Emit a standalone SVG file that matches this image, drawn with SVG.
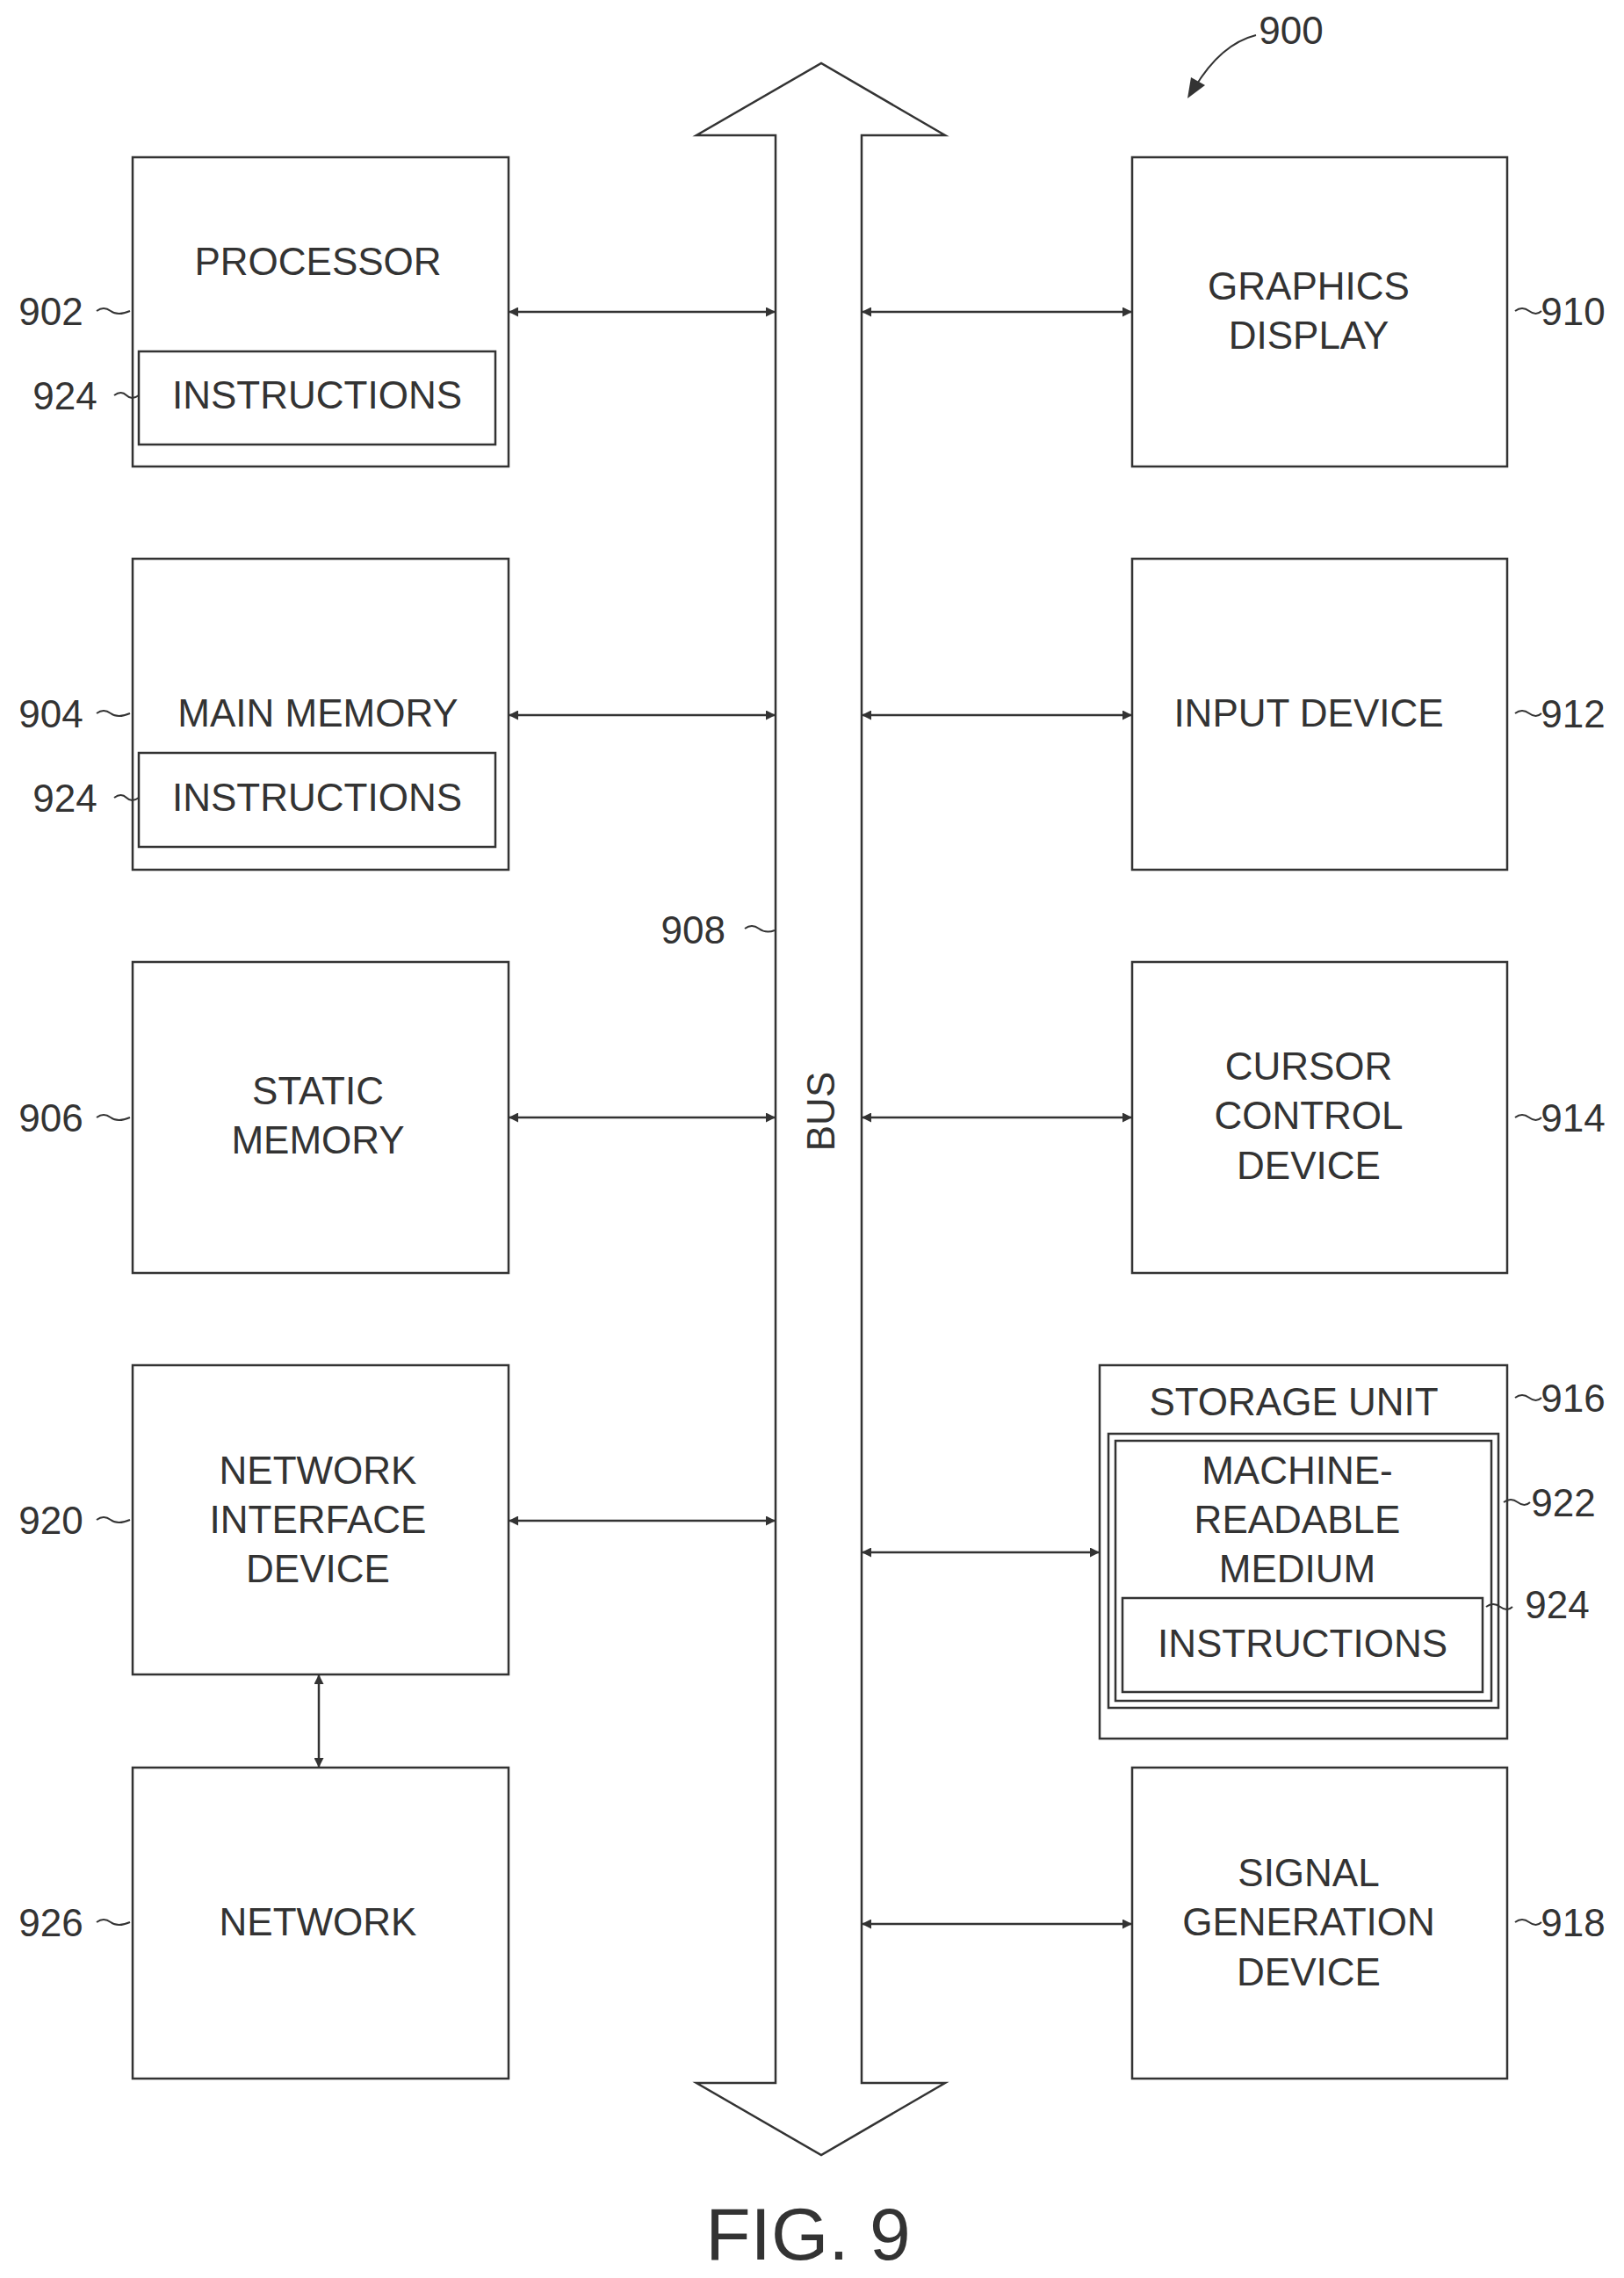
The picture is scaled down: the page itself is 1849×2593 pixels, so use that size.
<svg xmlns="http://www.w3.org/2000/svg" width="1849" height="2593" viewBox="0 0 1849 2593">
<style>
.b{fill:none;stroke:#333;stroke-width:2.5}
.c{fill:none;stroke:#333;stroke-width:2.5;marker-start:url(#a);marker-end:url(#a)}
.l{fill:none;stroke:#333;stroke-width:2}
text{font-family:"Liberation Sans",Arial,sans-serif;font-size:44px;fill:#333;text-anchor:middle}
.n{text-anchor:start}
.r{text-anchor:end}
</style>
<defs>
<marker id="a" viewBox="0 0 10 10" refX="10" refY="5" markerWidth="11" markerHeight="11" markerUnits="userSpaceOnUse" orient="auto-start-reverse"><path d="M0,0 L10,5 L0,10 z" fill="#333"/></marker>
</defs>
<rect width="1849" height="2593" fill="#fff"/>
<g id="bus">
<path class="b" d="M883,2371 L883,154 L793,154 L935,72 L1076,154 L981,154 L981,2371 L1076,2371 L935,2453 L793,2371 Z"/>
<text transform="translate(935,1265) rotate(-90)" y="15">BUS</text>
<text x="786" y="1074" class="r" dx="40">908</text>
<path class="l" d="M848,1057 q8,-6 16,0 t18,2"/>
</g>
<g id="n900"><text x="1470" y="50">900</text><path class="l" d="M1430,40 q-40,10 -70,60"/><path d="M1352,112 L1356,88 L1372,97 Z" fill="#333"/></g>
<g id="n902"><rect class="b" x="151" y="179" width="428" height="352"/><text x="362" y="313">PROCESSOR</text><text x="58" y="370">902</text><path class="l" d="M110,354 q8,-6 16,0 t22,0"/></g>
<g id="n924a"><rect class="b" x="158" y="400" width="406" height="106"/><text x="361" y="465">INSTRUCTIONS</text><text x="74" y="466">924</text><path class="l" d="M130,450 q8,-6 14,0 t14,0"/></g>
<g id="n904"><rect class="b" x="151" y="636" width="428" height="354"/><text x="362" y="827">MAIN MEMORY</text><text x="58" y="828">904</text><path class="l" d="M110,812 q8,-6 16,0 t22,0"/></g>
<g id="n924b"><rect class="b" x="158" y="857" width="406" height="107"/><text x="361" y="923">INSTRUCTIONS</text><text x="74" y="924">924</text><path class="l" d="M130,908 q8,-6 14,0 t14,0"/></g>
<g id="n906"><rect class="b" x="151" y="1095" width="428" height="354"/><text x="362" y="1257">STATIC</text><text x="362" y="1313">MEMORY</text><text x="58" y="1288">906</text><path class="l" d="M110,1272 q8,-6 16,0 t22,0"/></g>
<g id="n920"><rect class="b" x="151" y="1554" width="428" height="352"/><text x="362" y="1689">NETWORK</text><text x="362" y="1745">INTERFACE</text><text x="362" y="1801">DEVICE</text><text x="58" y="1746">920</text><path class="l" d="M110,1730 q8,-6 16,0 t22,0"/></g>
<g id="n926"><rect class="b" x="151" y="2012" width="428" height="354"/><text x="362" y="2203">NETWORK</text><text x="58" y="2204">926</text><path class="l" d="M110,2188 q8,-6 16,0 t22,0"/></g>
<g id="n910"><rect class="b" x="1289" y="179" width="427" height="352"/><text x="1490" y="341">GRAPHICS</text><text x="1490" y="397">DISPLAY</text><text x="1791" y="370">910</text><path class="l" d="M1725,354 q8,-6 16,0 t14,0"/></g>
<g id="n912"><rect class="b" x="1289" y="636" width="427" height="354"/><text x="1490" y="827">INPUT DEVICE</text><text x="1791" y="828">912</text><path class="l" d="M1725,812 q8,-6 16,0 t14,0"/></g>
<g id="n914"><rect class="b" x="1289" y="1095" width="427" height="354"/><text x="1490" y="1229">CURSOR</text><text x="1490" y="1285">CONTROL</text><text x="1490" y="1342">DEVICE</text><text x="1791" y="1288">914</text><path class="l" d="M1725,1272 q8,-6 16,0 t14,0"/></g>
<g id="n916"><rect class="b" x="1252" y="1554" width="464" height="425"/><text x="1473" y="1611">STORAGE UNIT</text><text x="1791" y="1607">916</text><path class="l" d="M1725,1591 q8,-6 16,0 t14,0"/></g>
<g id="n922"><rect class="b" x="1262" y="1632" width="444" height="312"/><rect class="b" x="1270" y="1640" width="428" height="296"/><text x="1477" y="1689">MACHINE-</text><text x="1477" y="1745">READABLE</text><text x="1477" y="1801">MEDIUM</text><text x="1780" y="1726">922</text><path class="l" d="M1712,1710 q8,-6 16,0 t14,0"/></g>
<g id="n924c"><rect class="b" x="1278" y="1819" width="410" height="107"/><text x="1483" y="1886">INSTRUCTIONS</text><text x="1773" y="1842">924</text><path class="l" d="M1692,1829 q8,-6 16,0 t14,0"/></g>
<g id="n918"><rect class="b" x="1289" y="2012" width="427" height="354"/><text x="1490" y="2147">SIGNAL</text><text x="1490" y="2203">GENERATION</text><text x="1490" y="2260">DEVICE</text><text x="1791" y="2204">918</text><path class="l" d="M1725,2188 q8,-6 16,0 t14,0"/></g>
<g id="connectors">
<line class="c" x1="579" y1="355" x2="883" y2="355"/>
<line class="c" x1="981" y1="355" x2="1289" y2="355"/>
<line class="c" x1="579" y1="814" x2="883" y2="814"/>
<line class="c" x1="981" y1="814" x2="1289" y2="814"/>
<line class="c" x1="579" y1="1272" x2="883" y2="1272"/>
<line class="c" x1="981" y1="1272" x2="1289" y2="1272"/>
<line class="c" x1="579" y1="1731" x2="883" y2="1731"/>
<line class="c" x1="981" y1="1767" x2="1252" y2="1767"/>
<line class="c" x1="981" y1="2190" x2="1289" y2="2190"/>
<line class="c" x1="363" y1="1906" x2="363" y2="2012"/>
</g>
<text x="920" y="2572" style="font-size:84px">FIG. 9</text>
</svg>
